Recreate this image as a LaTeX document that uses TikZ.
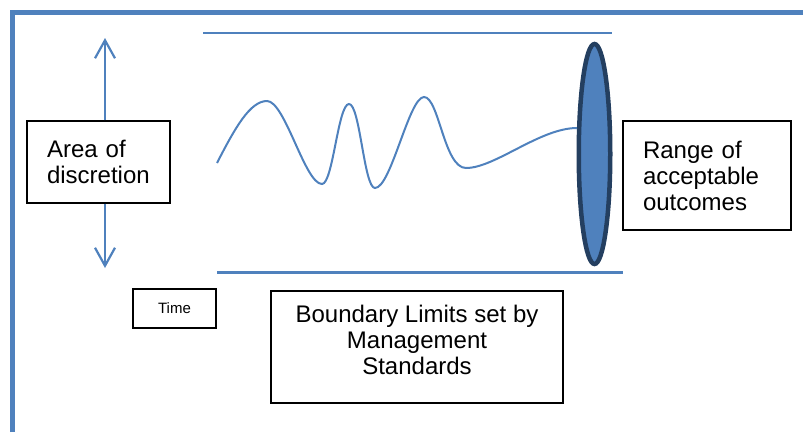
\documentclass[tikz,border=0pt]{standalone}
\usepackage{fontspec}
\setmainfont{Liberation Sans}
\usetikzlibrary{arrows.meta,shapes.geometric}
\definecolor{lineblue}{HTML}{4F81BD}
\definecolor{darkrim}{HTML}{243F60}
\begin{document}
\begin{tikzpicture}[x=1pt,y=-1pt,
    blueline/.style={draw=lineblue, line width=2.2pt},
    barb/.style={-{Straight Barb[length=18pt,width=20pt]}},
    textbox/.style={draw=black, line width=1.2pt, inner ysep=0pt},
    bigtext/.style={font=\fontsize{24}{26}\selectfont}]
\useasboundingbox (0,0) rectangle (803,432);
% Frame
\draw[lineblue, line width=5pt] (12,432) -- (12,12) -- (803,12);
% Boxes
\node[textbox, bigtext, inner xsep=20pt, text width=103pt, align=left,
      minimum height=82pt] (area) at (98.5,162) {Area of\\discretion};
\node[textbox, bigtext, inner xsep=20pt, text width=128pt, align=left,
      minimum height=109pt] (outcomes) at (707,175.5) {Range of\\acceptable\\outcomes};
\node[textbox, font=\fontsize{15}{18}\selectfont, minimum width=83pt,
      minimum height=39pt] (time) at (174.5,308.5) {Time};
\node[textbox, minimum width=292pt, minimum height=112pt] (limits) at (417,347) {};
\node[bigtext, anchor=north, inner sep=0pt, align=center, yshift=-15pt]
      (limitstext) at (limits.north) {Boundary Limits set by\\Management\\Standards};
% Arrows
\coordinate (uptip) at (105,38);
\coordinate (downtip) at (105,268);
\draw[blueline, barb] (uptip |- area.north) -- (uptip);
\draw[blueline, barb] (downtip |- area.south) -- (downtip);
% Boundary lines
\draw[blueline] (203,33) -- (612,33);
\draw[blueline] (217,272.5) -- (623,272.5);
% Range ellipse
\node[ellipse, draw=darkrim, fill=lineblue, line width=4.5pt, inner sep=0pt,
      minimum width=31.5pt, minimum height=220pt] (range) at (594.5,154) {};
% Wave
\draw[blueline, line width=2pt] (217,163)
    .. controls (235,128) and (250,101) .. (267,101)
    .. controls (285,101) and (305,184) .. (322,184)
    .. controls (333,184) and (338,104) .. (349,104)
    .. controls (360,104) and (364,188) .. (375,188)
    .. controls (391,188) and (409,97) .. (424,97)
    .. controls (439,97) and (444,168) .. (466,168)
    .. controls (495,168) and (540,128) .. (577,128);
\end{tikzpicture}
\end{document}
